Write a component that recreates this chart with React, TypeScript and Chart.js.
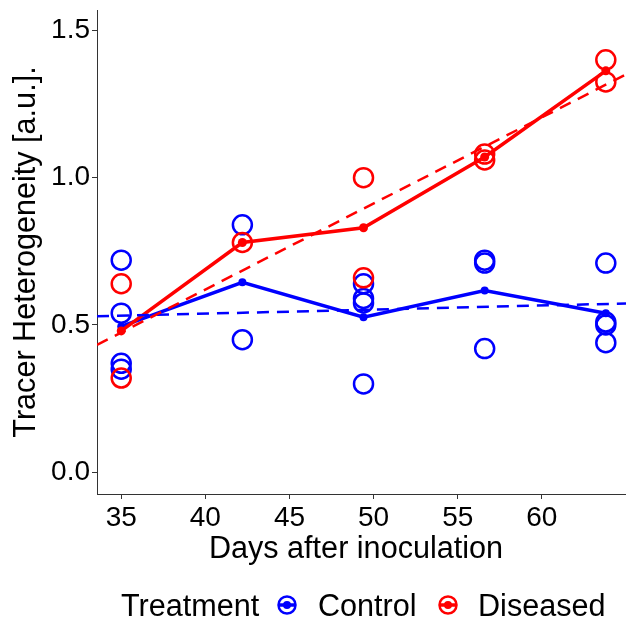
import React, { useEffect, useRef } from "react";
import { Chart, registerables } from "chart.js";

Chart.register(...registerables);

// ---- data ----
const days = [35, 42.2, 49.4, 56.6, 63.8];
const controlDays = [35, 35, 35, 35, 42.2, 42.2, 49.4, 49.4, 49.4, 49.4, 56.6, 56.6, 56.6, 63.8, 63.8, 63.8, 63.8];
const controlValues = [0.72, 0.54, 0.37, 0.35, 0.84, 0.45, 0.64, 0.59, 0.575, 0.3, 0.72, 0.71, 0.42, 0.71, 0.51, 0.5, 0.44];
const diseasedDays = [35, 35, 42.2, 49.4, 49.4, 56.6, 56.6, 63.8, 63.8];
const diseasedValues = [0.64, 0.32, 0.78, 1.0, 0.66, 1.08, 1.06, 1.4, 1.325];
const xTicks = [35, 40, 45, 50, 55, 60];
const yTicks = [0, 0.5, 1.0, 1.5];
const groupNames = ["Control", "Diseased"];
const legendTitle = "Treatment";
const xLabel = "Days after inoculation";
const yLabel = "Tracer Heterogeneity [a.u.].";

const BLUE = "#0000FF";
const RED = "#FF0000";
const FONT = "'Liberation Sans', Arial, sans-serif";
const X_MIN = 33.56;
const X_MAX = 65.0;
const Y_MIN = -0.0736;
const Y_MAX = 1.569;

function groupMeans(xs: number[], ys: number[]) {
  return days.map((d) => {
    const v = ys.filter((_, i) => xs[i] === d);
    return { x: d, y: v.reduce((a, b) => a + b, 0) / v.length };
  });
}

function linearFit(xs: number[], ys: number[]) {
  const n = xs.length;
  const mx = xs.reduce((a, b) => a + b, 0) / n;
  const my = ys.reduce((a, b) => a + b, 0) / n;
  let sxy = 0;
  let sxx = 0;
  xs.forEach((x, i) => {
    sxy += (x - mx) * (ys[i] - my);
    sxx += (x - mx) * (x - mx);
  });
  const b = sxy / sxx;
  const a = my - b * mx;
  return [
    { x: X_MIN, y: a + b * X_MIN },
    { x: X_MAX, y: a + b * X_MAX },
  ];
}

const decorPlugin = {
  id: "decor",
  afterDraw(chart: any) {
    const ctx = chart.ctx;
    ctx.save();
    ctx.fillStyle = "#000";
    ctx.textBaseline = "alphabetic";
    ctx.font = `30.6px ${FONT}`;
    // x axis title
    ctx.textAlign = "center";
    ctx.fillText(xLabel, 356, 558);
    // legend
    ctx.textAlign = "left";
    ctx.fillText(legendTitle, 121, 616);
    const items = [
      { x: 287, color: BLUE, label: groupNames[0], tx: 318 },
      { x: 448, color: RED, label: groupNames[1], tx: 478 },
    ];
    const cy = 605;
    items.forEach((it) => {
      ctx.strokeStyle = it.color;
      ctx.fillStyle = it.color;
      ctx.lineWidth = 2.5;
      ctx.beginPath();
      ctx.arc(it.x, cy, 8.5, 0, Math.PI * 2);
      ctx.stroke();
      ctx.lineWidth = 3.5;
      ctx.beginPath();
      ctx.moveTo(it.x - 9, cy);
      ctx.lineTo(it.x + 9, cy);
      ctx.stroke();
      ctx.beginPath();
      ctx.arc(it.x, cy, 4, 0, Math.PI * 2);
      ctx.fill();
      ctx.fillStyle = "#000";
      ctx.fillText(it.label, it.tx, 616);
    });
    ctx.restore();
  },
};

export default function App() {
  const ref = useRef<HTMLCanvasElement | null>(null);

  useEffect(() => {
    document.body.style.margin = "0";
    const canvas = ref.current;
    if (!canvas) return;

    const controlPts = controlDays.map((d, i) => ({ x: d, y: controlValues[i] }));
    const diseasedPts = diseasedDays.map((d, i) => ({ x: d, y: diseasedValues[i] }));

    const chart = new Chart(canvas, {
      type: "scatter",
      data: {
        datasets: [
          {
            label: groupNames[0] + " points",
            data: controlPts,
            pointRadius: 9.5,
            pointHoverRadius: 9.5,
            borderColor: BLUE,
            backgroundColor: "rgba(0,0,0,0)",
            borderWidth: 2.5,
            showLine: false,
            order: 6,
          },
          {
            label: groupNames[1] + " points",
            data: diseasedPts,
            pointRadius: 9.5,
            pointHoverRadius: 9.5,
            borderColor: RED,
            backgroundColor: "rgba(0,0,0,0)",
            borderWidth: 2.5,
            showLine: false,
            order: 5,
          },
          {
            label: groupNames[0] + " mean",
            data: groupMeans(controlDays, controlValues),
            showLine: true,
            borderColor: BLUE,
            backgroundColor: BLUE,
            borderWidth: 3.5,
            pointRadius: 4,
            pointBorderWidth: 0,
            order: 4,
          },
          {
            label: groupNames[1] + " mean",
            data: groupMeans(diseasedDays, diseasedValues),
            showLine: true,
            borderColor: RED,
            backgroundColor: RED,
            borderWidth: 3.5,
            pointRadius: 4.5,
            pointBorderWidth: 0,
            order: 3,
          },
          {
            label: groupNames[0] + " fit",
            data: linearFit(controlDays, controlValues),
            showLine: true,
            borderColor: BLUE,
            borderWidth: 2.5,
            borderDash: [12, 8],
            pointRadius: 0,
            order: 2,
          },
          {
            label: groupNames[1] + " fit",
            data: linearFit(diseasedDays, diseasedValues),
            showLine: true,
            borderColor: RED,
            borderWidth: 2.5,
            borderDash: [12, 8],
            pointRadius: 0,
            order: 1,
          },
        ] as any,
      },
      options: {
        animation: false,
        responsive: false,
        maintainAspectRatio: false,
        layout: { autoPadding: false, padding: { top: 10, right: 0, bottom: 0, left: 0 } },
        plugins: {
          legend: { display: false },
          tooltip: { enabled: false },
        },
        scales: {
          x: {
            type: "linear",
            min: X_MIN,
            max: X_MAX,
            afterBuildTicks: (s: any) => {
              s.ticks = xTicks.map((v) => ({ value: v }));
            },
            afterFit: (s: any) => {
              s.height = 126;
              s.paddingLeft = 0;
              s.paddingRight = 0;
            },
            ticks: {
              font: { family: FONT, size: 28 },
              color: "#000",
              padding: 2,
              maxRotation: 0,
              autoSkip: false,
              callback: (v: any) => String(v),
            },
            grid: {
              display: true,
              drawOnChartArea: false,
              drawTicks: true,
              tickLength: 5,
              color: "#333",
            },
            border: { display: true, color: "#333", width: 1 },
          },
          y: {
            type: "linear",
            min: Y_MIN,
            max: Y_MAX,
            afterBuildTicks: (s: any) => {
              s.ticks = yTicks.map((v) => ({ value: v }));
            },
            afterFit: (s: any) => {
              s.width = 97;
              s.paddingTop = 0;
              s.paddingBottom = 0;
            },
            ticks: {
              font: { family: FONT, size: 28 },
              color: "#000",
              padding: 2,
              autoSkip: false,
              callback: (v: any) => Number(v).toFixed(1),
            },
            grid: {
              display: true,
              drawOnChartArea: false,
              drawTicks: true,
              tickLength: 5,
              color: "#333",
            },
            border: { display: true, color: "#333", width: 1 },
            title: {
              display: true,
              text: yLabel,
              color: "#000",
              font: { family: FONT, size: 30.6 },
              padding: { top: 8, bottom: 0 },
            },
          },
        },
      } as any,
      plugins: [decorPlugin],
    });

    return () => chart.destroy();
  }, []);

  return (
    <div style={{ position: "absolute", left: 0, top: 0, width: 626, height: 620, background: "#fff" }}>
      <canvas ref={ref} width={626} height={620} style={{ width: 626, height: 620, display: "block" }} />
    </div>
  );
}
